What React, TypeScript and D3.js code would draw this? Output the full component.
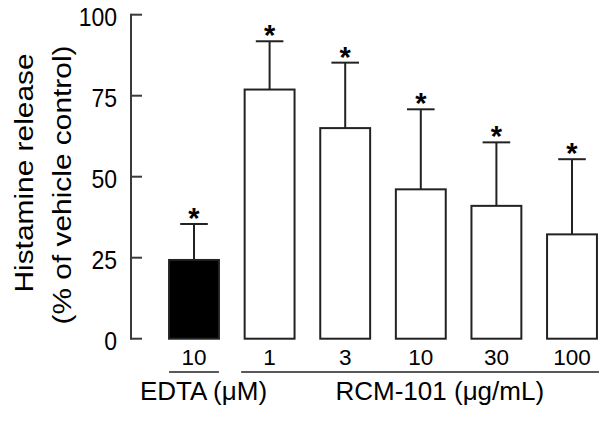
import React from "react";
import * as d3 from "d3";

const categories = ["EDTA 10", "RCM 1", "RCM 3", "RCM 10", "RCM 30", "RCM 100"];
const tickLabels = ["10", "1", "3", "10", "30", "100"];
const means = [24.3, 76.9, 65.0, 46.1, 41.0, 32.2];
const errUpper = [35.4, 91.8, 85.2, 70.8, 60.6, 55.4];
const fills = ["#000000", "#ffffff", "#ffffff", "#ffffff", "#ffffff", "#ffffff"];
const groupLabels = ["EDTA (\u03bcM)", "RCM-101 (\u03bcg/mL)"];
const groupFirst = [0, 1];
const groupLast = [0, 5];
const yTicks = [0, 25, 50, 75, 100];

const FONT = "Arial, 'Liberation Sans', Helvetica, sans-serif";

export default function App() {
  const W = 600;
  const H = 423;
  const x = d3
    .scaleBand<string>()
    .domain(categories)
    .range([156.2, 609.8])
    .paddingInner(0.34)
    .paddingOuter(0.17);
  const y = d3.scaleLinear().domain([0, 100]).range([338.7, 14.7]);
  const bw = x.bandwidth();
  const axisX = 131;
  const stroke = "#222";
  const capHalf = 13.8;

  const groupOffsets = [9.5, 19];
  const underlineY = 372;

  return (
    <svg
      width={W}
      height={H}
      style={{ position: "absolute", left: 0, top: 0, background: "#fff" }}
      fontFamily={FONT}
    >
      <rect x={0} y={0} width={W} height={H} fill="#fff" />
      {/* y axis */}
      <line x1={axisX} x2={axisX} y1={y(100) - 1} y2={y(0) + 1} stroke="#3a3a3a" strokeWidth={2} />
      {yTicks.map((t) => (
        <g key={t}>
          <line x1={axisX} x2={axisX + 11} y1={y(t)} y2={y(t)} stroke="#3a3a3a" strokeWidth={2} />
          <text
            transform={`translate(117,${y(t) + 11.5}) scale(1,1.15)`}
            textAnchor="end"
            fontSize={23}
            fill="#000"
          >
            {t}
          </text>
        </g>
      ))}
      {/* y label */}
      <text
        transform="translate(33,173) rotate(-90) scale(1.15,1)"
        textAnchor="middle"
        fontSize={26}
        fill="#000"
      >
        Histamine release
      </text>
      <text
        transform="translate(71,185) rotate(-90) scale(1.15,1)"
        textAnchor="middle"
        fontSize={26}
        fill="#000"
      >
        (% of vehicle control)
      </text>
      {/* bars */}
      {categories.map((c, i) => {
        const bx = x(c)!;
        const cx = bx + bw / 2;
        const top = y(means[i]);
        const et = y(errUpper[i]);
        return (
          <g key={c}>
            <line x1={cx} x2={cx} y1={top} y2={et} stroke={stroke} strokeWidth={2} />
            <line x1={cx - capHalf} x2={cx + capHalf} y1={et} y2={et} stroke={stroke} strokeWidth={2} />
            <rect
              x={bx}
              y={top}
              width={bw}
              height={y(0) - top}
              fill={fills[i]}
              stroke={stroke}
              strokeWidth={2}
            />
            <text x={cx} y={et + 4} textAnchor="middle" fontSize={29} fontWeight="bold" fill="#000">
              *
            </text>
            <text x={cx} y={365} textAnchor="middle" fontSize={22.5} fill="#000">
              {tickLabels[i]}
            </text>
          </g>
        );
      })}
      {/* group labels */}
      {groupLabels.map((g, gi) => {
        const x0 = x(categories[groupFirst[gi]])!;
        const x1 = x(categories[groupLast[gi]])! + bw;
        const lx0 = gi === 0 ? x0 : x0 - 3.5;
        const lx1 = gi === 0 ? x1 : Math.min(600, x1 + 2);
        return (
          <g key={g}>
            <line x1={lx0} x2={lx1} y1={underlineY} y2={underlineY} stroke={stroke} strokeWidth={1.5} />
            <text
              x={(x0 + x1) / 2 + groupOffsets[gi]}
              y={399.5}
              textAnchor="middle"
              fontSize={26}
              fill="#000"
            >
              {g}
            </text>
          </g>
        );
      })}
    </svg>
  );
}
